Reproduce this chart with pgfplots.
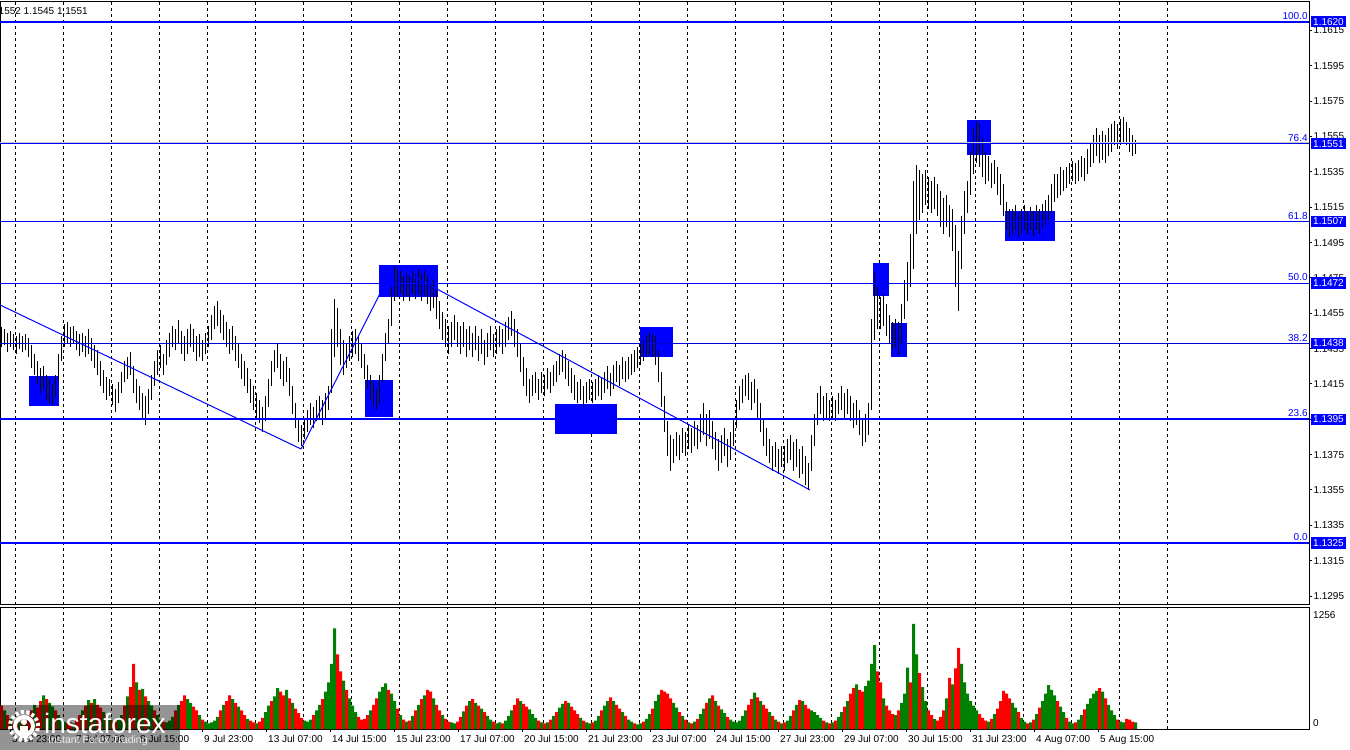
\documentclass[border=0pt]{standalone}
\usepackage{pgfplots}
\pgfplotsset{compat=1.18}
\usepackage{pgfplotstable}
\usepackage{fontspec}
\setmainfont{Liberation Sans}
\definecolor{mtblue}{RGB}{0,0,255}
\definecolor{mtgreen}{RGB}{0,128,0}
\definecolor{mtred}{RGB}{255,0,0}

% H1 bars: low, high, tick volume, up(1)/down(0)
\pgfplotstableread{
l h v u
1.1436 1.1447 250 0
1.1437 1.1446 200 1
1.1433 1.1444 150 0
1.1436 1.1445 110 1
1.1434 1.1443 80 0
1.1432 1.1442 60 0
1.1435 1.1444 70 1
1.1433 1.1442 60 0
1.1434 1.1443 90 1
1.1430 1.1441 140 0
1.1424 1.1437 200 0
1.1420 1.1432 260 1
1.1415 1.1428 230 0
1.1410 1.1424 300 0
1.1412 1.1425 360 1
1.1406 1.1420 320 0
1.1404 1.1418 280 1
1.1403 1.1415 240 1
1.1408 1.1420 200 0
1.1416 1.1432 150 1
1.1428 1.1442 100 1
1.1436 1.1449 80 1
1.1438 1.1450 60 0
1.1436 1.1447 70 0
1.1438 1.1448 60 1
1.1434 1.1445 100 0
1.1431 1.1443 150 0
1.1433 1.1444 200 1
1.1430 1.1442 250 0
1.1432 1.1446 310 1
1.1428 1.1441 280 0
1.1424 1.1437 320 1
1.1420 1.1434 260 0
1.1414 1.1428 230 0
1.1410 1.1423 180 1
1.1406 1.1419 150 0
1.1408 1.1418 120 1
1.1403 1.1415 90 0
1.1399 1.1412 80 0
1.1404 1.1416 100 1
1.1410 1.1422 150 1
1.1416 1.1428 250 0
1.1418 1.1430 350 1
1.1420 1.1433 450 0
1.1410 1.1425 700 0
1.1404 1.1418 500 1
1.1400 1.1414 420 0
1.1396 1.1410 430 1
1.1392 1.1408 350 0
1.1398 1.1412 300 1
1.1406 1.1420 250 1
1.1414 1.1428 200 0
1.1420 1.1434 150 1
1.1424 1.1437 100 1
1.1420 1.1432 80 0
1.1426 1.1440 70 1
1.1430 1.1444 90 1
1.1436 1.1448 130 1
1.1434 1.1446 200 0
1.1438 1.1451 260 1
1.1432 1.1445 300 0
1.1428 1.1442 360 0
1.1432 1.1446 320 1
1.1436 1.1449 280 1
1.1433 1.1446 240 0
1.1428 1.1442 200 0
1.1430 1.1443 150 1
1.1428 1.1440 100 0
1.1432 1.1444 80 1
1.1436 1.1448 60 1
1.1440 1.1454 70 1
1.1446 1.1459 90 1
1.1448 1.1462 130 1
1.1444 1.1457 200 0
1.1440 1.1454 260 1
1.1436 1.1450 300 0
1.1432 1.1446 360 0
1.1434 1.1448 320 1
1.1428 1.1442 280 0
1.1424 1.1438 240 1
1.1418 1.1432 200 0
1.1414 1.1428 150 0
1.1410 1.1424 110 1
1.1404 1.1418 90 0
1.1400 1.1414 70 0
1.1396 1.1410 60 1
1.1393 1.1406 80 0
1.1388 1.1402 120 0
1.1394 1.1408 180 1
1.1402 1.1418 250 1
1.1414 1.1428 300 0
1.1422 1.1434 350 1
1.1424 1.1438 440 1
1.1418 1.1432 400 0
1.1414 1.1428 360 0
1.1416 1.1430 420 1
1.1408 1.1424 330 0
1.1398 1.1414 280 1
1.1390 1.1404 220 0
1.1382 1.1396 170 0
1.1380 1.1392 120 0
1.1384 1.1396 90 1
1.1388 1.1400 80 1
1.1392 1.1404 100 1
1.1390 1.1402 150 0
1.1394 1.1406 200 1
1.1396 1.1408 260 1
1.1392 1.1406 320 0
1.1396 1.1410 400 1
1.1400 1.1414 500 1
1.1410 1.1446 700 1
1.1430 1.1463 1080 1
1.1436 1.1458 800 0
1.1426 1.1446 620 0
1.1420 1.1440 520 1
1.1424 1.1438 420 0
1.1428 1.1442 330 1
1.1430 1.1445 250 1
1.1432 1.1446 180 1
1.1428 1.1442 130 0
1.1424 1.1438 100 0
1.1418 1.1432 110 0
1.1412 1.1426 150 0
1.1406 1.1420 200 1
1.1402 1.1416 260 0
1.1400 1.1412 330 0
1.1404 1.1420 400 1
1.1416 1.1432 450 1
1.1428 1.1444 490 1
1.1438 1.1452 420 0
1.1448 1.1470 380 1
1.1462 1.1482 300 1
1.1464 1.1480 220 0
1.1466 1.1479 150 1
1.1462 1.1476 100 0
1.1465 1.1478 80 1
1.1462 1.1476 90 0
1.1466 1.1479 140 1
1.1463 1.1477 200 0
1.1466 1.1480 260 1
1.1462 1.1478 320 0
1.1465 1.1479 360 1
1.1460 1.1476 420 0
1.1456 1.1472 400 0
1.1458 1.1474 330 1
1.1452 1.1468 260 0
1.1446 1.1462 200 0
1.1440 1.1456 150 1
1.1436 1.1452 110 0
1.1432 1.1448 80 0
1.1436 1.1450 70 1
1.1440 1.1454 60 1
1.1436 1.1450 80 0
1.1432 1.1448 130 0
1.1436 1.1450 190 1
1.1430 1.1446 250 0
1.1434 1.1448 300 1
1.1430 1.1444 320 0
1.1434 1.1448 280 1
1.1428 1.1442 250 0
1.1432 1.1446 220 1
1.1426 1.1440 180 0
1.1430 1.1444 140 1
1.1434 1.1448 100 1
1.1430 1.1443 80 0
1.1432 1.1446 60 1
1.1436 1.1448 70 1
1.1432 1.1446 60 0
1.1436 1.1450 90 1
1.1440 1.1453 140 1
1.1442 1.1456 200 1
1.1436 1.1452 260 0
1.1430 1.1446 330 0
1.1422 1.1438 300 1
1.1414 1.1430 270 0
1.1408 1.1424 240 0
1.1404 1.1418 210 1
1.1408 1.1420 160 1
1.1410 1.1422 120 1
1.1406 1.1418 90 0
1.1410 1.1422 70 1
1.1408 1.1420 60 0
1.1412 1.1424 70 1
1.1410 1.1422 100 0
1.1414 1.1426 140 1
1.1416 1.1428 180 0
1.1420 1.1432 230 1
1.1422 1.1434 270 1
1.1418 1.1432 300 0
1.1414 1.1428 280 1
1.1410 1.1424 240 0
1.1406 1.1420 200 0
1.1404 1.1416 160 0
1.1406 1.1418 120 1
1.1402 1.1414 90 0
1.1404 1.1416 70 1
1.1406 1.1418 60 1
1.1404 1.1416 70 0
1.1406 1.1418 90 1
1.1408 1.1420 140 1
1.1406 1.1419 200 0
1.1410 1.1422 250 1
1.1412 1.1425 300 1
1.1408 1.1421 340 0
1.1412 1.1426 300 1
1.1416 1.1428 260 0
1.1414 1.1426 220 0
1.1418 1.1430 180 1
1.1416 1.1428 140 0
1.1418 1.1430 100 1
1.1420 1.1432 80 1
1.1422 1.1434 60 0
1.1424 1.1436 50 1
1.1426 1.1438 60 1
1.1428 1.1440 80 0
1.1430 1.1442 110 1
1.1432 1.1444 160 1
1.1430 1.1443 220 0
1.1426 1.1442 300 1
1.1416 1.1434 370 1
1.1402 1.1422 420 0
1.1388 1.1408 400 0
1.1374 1.1394 380 0
1.1366 1.1386 330 0
1.1370 1.1384 280 1
1.1374 1.1388 230 1
1.1372 1.1386 180 0
1.1376 1.1390 140 1
1.1374 1.1388 100 0
1.1378 1.1392 70 1
1.1376 1.1390 60 0
1.1380 1.1394 80 1
1.1378 1.1392 110 0
1.1382 1.1398 160 1
1.1386 1.1404 220 1
1.1380 1.1398 280 0
1.1384 1.1400 330 1
1.1378 1.1394 360 0
1.1372 1.1388 300 1
1.1366 1.1384 250 0
1.1370 1.1386 210 1
1.1374 1.1390 170 1
1.1368 1.1384 130 0
1.1372 1.1388 100 1
1.1380 1.1396 80 1
1.1390 1.1406 70 1
1.1400 1.1414 90 1
1.1404 1.1418 140 1
1.1408 1.1420 200 1
1.1406 1.1421 260 0
1.1400 1.1416 320 0
1.1404 1.1418 390 1
1.1396 1.1412 340 0
1.1388 1.1404 300 1
1.1380 1.1396 260 0
1.1374 1.1390 220 0
1.1370 1.1384 180 1
1.1366 1.1380 140 0
1.1368 1.1382 100 1
1.1364 1.1378 80 0
1.1368 1.1380 60 1
1.1366 1.1380 70 0
1.1370 1.1384 90 1
1.1372 1.1386 140 1
1.1366 1.1382 200 0
1.1368 1.1384 260 1
1.1362 1.1378 310 0
1.1364 1.1380 300 1
1.1358 1.1374 260 0
1.1355 1.1370 220 0
1.1366 1.1386 200 1
1.1380 1.1398 180 1
1.1392 1.1410 150 1
1.1398 1.1414 120 1
1.1394 1.1408 90 0
1.1396 1.1410 70 1
1.1394 1.1406 60 0
1.1396 1.1408 70 1
1.1394 1.1406 90 0
1.1398 1.1410 130 1
1.1400 1.1414 180 1
1.1396 1.1410 240 0
1.1398 1.1412 300 1
1.1394 1.1408 380 0
1.1390 1.1404 440 0
1.1392 1.1406 480 1
1.1386 1.1400 420 0
1.1380 1.1396 400 0
1.1382 1.1398 460 1
1.1386 1.1404 520 1
1.1400 1.1452 700 1
1.1440 1.1478 900 1
1.1446 1.1470 620 0
1.1446 1.1464 500 0
1.1448 1.1466 330 1
1.1442 1.1460 250 0
1.1438 1.1454 200 0
1.1434 1.1450 160 0
1.1436 1.1452 150 1
1.1432 1.1450 200 0
1.1438 1.1460 280 1
1.1452 1.1474 380 1
1.1462 1.1484 660 1
1.1470 1.1500 500 0
1.1480 1.1530 1130 1
1.1500 1.1539 800 1
1.1508 1.1536 600 0
1.1512 1.1534 450 1
1.1516 1.1536 300 1
1.1514 1.1532 200 0
1.1512 1.1530 150 0
1.1514 1.1532 110 1
1.1510 1.1528 90 0
1.1504 1.1524 130 0
1.1500 1.1520 200 0
1.1504 1.1522 330 1
1.1498 1.1516 550 0
1.1490 1.1514 480 1
1.1470 1.1505 650 0
1.1456 1.1490 870 0
1.1480 1.1510 700 1
1.1500 1.1524 500 1
1.1512 1.1530 380 1
1.1522 1.1546 300 1
1.1534 1.1560 250 1
1.1540 1.1564 200 1
1.1538 1.1562 160 0
1.1532 1.1554 120 0
1.1528 1.1546 90 0
1.1530 1.1544 80 1
1.1526 1.1540 110 0
1.1528 1.1542 160 1
1.1522 1.1538 220 0
1.1516 1.1534 300 0
1.1510 1.1528 410 0
1.1502 1.1518 380 0
1.1498 1.1514 330 0
1.1500 1.1514 280 1
1.1502 1.1516 230 1
1.1498 1.1512 180 0
1.1500 1.1514 120 1
1.1502 1.1516 80 1
1.1500 1.1513 60 0
1.1502 1.1515 70 1
1.1499 1.1513 100 0
1.1502 1.1516 160 1
1.1500 1.1514 230 0
1.1503 1.1517 300 1
1.1505 1.1519 380 1
1.1508 1.1522 470 1
1.1512 1.1528 420 1
1.1518 1.1534 360 1
1.1520 1.1534 300 0
1.1522 1.1538 240 1
1.1524 1.1536 180 1
1.1526 1.1538 120 0
1.1528 1.1540 80 1
1.1530 1.1541 60 1
1.1528 1.1540 70 0
1.1530 1.1542 100 1
1.1532 1.1544 150 1
1.1530 1.1543 210 0
1.1534 1.1548 270 1
1.1538 1.1552 330 1
1.1540 1.1556 380 1
1.1544 1.1560 410 1
1.1540 1.1556 440 0
1.1542 1.1558 400 1
1.1540 1.1556 330 0
1.1544 1.1560 260 1
1.1546 1.1562 200 1
1.1550 1.1564 150 1
1.1548 1.1562 100 0
1.1550 1.1565 80 1
1.1552 1.1566 70 1
1.1550 1.1563 110 0
1.1546 1.1560 100 0
1.1544 1.1556 80 0
1.1545 1.1553 70 1
}\bars

\begin{document}
\begin{tikzpicture}[font=\fontsize{10}{12}\selectfont]
\path[use as bounding box] (0,0) rectangle (1350pt,750pt);

% ---------------- price panel ----------------
\begin{axis}[
  at={(0pt,145pt)}, anchor=south west, scale only axis,
  width=1309.3pt, height=603pt,
  xmin=0, xmax=1309.3, ymin=1.128991, ymax=1.163115,
  axis line style={black, line width=1pt},
  xtick={15.7,63.7,111.7,159.7,207.7,255.7,303.7,351.7,399.7,447.7,495.7,543.7,591.7,639.7,687.7,735.7,783.7,831.7,879.7,927.7,975.7,1023.7,1071.7,1119.7,1167.7},
  xticklabels={}, xtick style={draw=none},
  xmajorgrids, major grid style={black, line width=1pt, dash pattern=on 3pt off 3pt},
  ytick={1.1295,1.1315,1.1335,1.1355,1.1375,1.1395,1.1415,1.1435,1.1455,1.1475,1.1495,1.1515,1.1535,1.1555,1.1575,1.1595,1.1615},
  yticklabels={1.1295,1.1315,1.1335,1.1355,1.1375,1.1395,1.1415,1.1435,1.1455,1.1475,1.1495,1.1515,1.1535,1.1555,1.1575,1.1595,1.1615},
  ytick pos=right, ytick align=outside, major tick length=3pt,
  ytick style={black, line width=1pt},
  yticklabel style={anchor=west, inner sep=0pt, xshift=1pt},
]
% rectangles (background objects)
\fill[mtblue] (axis cs:29,1.14195) rectangle (axis cs:59,1.14025);
\fill[mtblue] (axis cs:365,1.14172) rectangle (axis cs:393,1.13963);
\fill[mtblue] (axis cs:379,1.14823) rectangle (axis cs:438,1.14642);
\fill[mtblue] (axis cs:555,1.14037) rectangle (axis cs:617,1.13867);
\fill[mtblue] (axis cs:640,1.14472) rectangle (axis cs:673,1.14303);
\fill[mtblue] (axis cs:873,1.14835) rectangle (axis cs:889,1.14648);
\fill[mtblue] (axis cs:891,1.14495) rectangle (axis cs:907,1.14303);
\fill[mtblue] (axis cs:967,1.15644) rectangle (axis cs:991,1.15446);
\fill[mtblue] (axis cs:1005,1.15129) rectangle (axis cs:1055,1.14959);

% bars (high-low)
\addplot[black, line width=1.5pt, quiver={u=0, v=\thisrow{h}-\thisrow{l}}]
  table[x expr=1.5+3*\coordindex, y=l] {\bars};

% trend lines
\addplot[mtblue, line width=1pt] coordinates {(0,1.14597) (301,1.13782)};
\addplot[mtblue, line width=1pt] coordinates {(301,1.13782) (393,1.14806)};
\addplot[mtblue, line width=1pt] coordinates {(400,1.14800) (810,1.13550)};

% fibonacci levels (thin ones as filled strips)
\fill[black!22] ([yshift=0.6pt]axis cs:0,1.1551) rectangle ([yshift=1.8pt]axis cs:1309.3,1.1551);
\fill[mtblue] ([yshift=-0.7pt]axis cs:0,1.1551) rectangle ([yshift=0.6pt]axis cs:1309.3,1.1551);
\fill[mtblue] ([yshift=-0.7pt]axis cs:0,1.1507) rectangle ([yshift=0.6pt]axis cs:1309.3,1.1507);
\fill[mtblue] ([yshift=-0.7pt]axis cs:0,1.1472) rectangle ([yshift=0.6pt]axis cs:1309.3,1.1472);
\fill[mtblue!85!black] ([yshift=-0.7pt]axis cs:0,1.1438) rectangle ([yshift=0.6pt]axis cs:1309.3,1.1438);
\addplot[mtblue, line width=2pt] coordinates {(0,1.1620) (1309.3,1.1620)};
\addplot[mtblue, line width=2pt] coordinates {(0,1.1395) (1309.3,1.1395)};
\addplot[mtblue, line width=2pt] coordinates {(0,1.1325) (1309.3,1.1325)};

\coordinate (A) at (axis cs:1309.3,1.1620);
\coordinate (B) at (axis cs:1309.3,1.1551);
\coordinate (C) at (axis cs:1309.3,1.1507);
\coordinate (D) at (axis cs:1309.3,1.1472);
\coordinate (E) at (axis cs:1309.3,1.1438);
\coordinate (F) at (axis cs:1309.3,1.1395);
\coordinate (G) at (axis cs:1309.3,1.1325);
\end{axis}

% ---------------- volume panel ----------------
\begin{axis}[
  at={(0pt,21pt)}, anchor=south west, scale only axis,
  width=1309.3pt, height=122pt,
  xmin=0, xmax=1309.3, ymin=0, ymax=1310,
  axis line style={black, line width=1pt},
  ytick=\empty,
  xtick={10.5,74.5,138.5,202.5,266.5,330.5,394.5,458.5,522.5,586.5,650.5,714.5,778.5,842.5,906.5,970.5,1034.5,1098.5},
  xticklabels={3 Jul 23:00,7 Jul 07:00,8 Jul 15:00,9 Jul 23:00,13 Jul 07:00,14 Jul 15:00,15 Jul 23:00,17 Jul 07:00,20 Jul 15:00,21 Jul 23:00,23 Jul 07:00,24 Jul 15:00,27 Jul 23:00,29 Jul 07:00,30 Jul 15:00,31 Jul 23:00,4 Aug 07:00,5 Aug 15:00},
  xtick pos=bottom, xtick align=outside, major tick length=3pt,
  xtick style={black, line width=1pt},
  xticklabel style={anchor=north west, inner sep=0pt, xshift=1.5pt, yshift=-3pt},
  minor xtick={15.7,63.7,111.7,159.7,207.7,255.7,303.7,351.7,399.7,447.7,495.7,543.7,591.7,639.7,687.7,735.7,783.7,831.7,879.7,927.7,975.7,1023.7,1071.7,1119.7,1167.7},
  minor tick length=0pt,
  xminorgrids, minor grid style={black, line width=1pt, dash pattern=on 3pt off 3pt},
]
\addplot[ybar, bar width=3, bar shift=0pt, fill=mtgreen, draw=none,
  restrict expr to domain={\thisrow{u}}{0.5:1.5}]
  table[x expr=1.5+3*\coordindex, y=v] {\bars};
\addplot[ybar, bar width=3, bar shift=0pt, fill=mtred, draw=none,
  restrict expr to domain={\thisrow{u}}{-0.5:0.5}]
  table[x expr=1.5+3*\coordindex, y=v] {\bars};
\end{axis}

% ---------------- level labels ----------------
\foreach \c/\p/\t in {A/1.1620/100.0, B/1.1551/76.4, C/1.1507/61.8, D/1.1472/50.0, E/1.1438/38.2, F/1.1395/23.6, G/1.1325/0.0}{
  \node[fill=mtblue, text=white, anchor=west, inner xsep=2pt, inner ysep=0pt,
        minimum height=11.5pt, minimum width=35pt] at ([xshift=1.5pt]\c) {\p};
  \node[text=mtblue, anchor=south east, inner sep=0pt] at ([xshift=-1.5pt,yshift=2pt]\c) {\t};
}
\node[anchor=west, inner sep=0pt] at (1313pt,135pt) {1256};
\node[anchor=west, inner sep=0pt] at (1313pt,27pt) {0};

% header text
\node[anchor=west, inner sep=0pt] at (-1.5pt,739pt) {1552 1.1545 1.1551};

% watermark
\fill[black, opacity=0.42] (0,0) rectangle (180pt,45pt);
\draw[white, line width=4pt] (24pt,24pt) circle (9pt);
\draw[white, line width=4pt, dash pattern=on 3pt off 2.5pt] (24pt,24pt) circle (14pt);
\fill[white] (24pt,28pt) circle (3pt);
\fill[white] (20pt,12pt) rectangle (28pt,24pt);
\node[anchor=west, inner sep=0pt, text=white, font=\fontsize{28}{30}\selectfont] at (44pt,27pt) {instaforex};
\node[anchor=west, inner sep=0pt, text=white!85!gray, font=\fontsize{10.5}{12}\selectfont] at (48pt,9pt) {Instant Forex Trading};
\end{tikzpicture}
\end{document}
